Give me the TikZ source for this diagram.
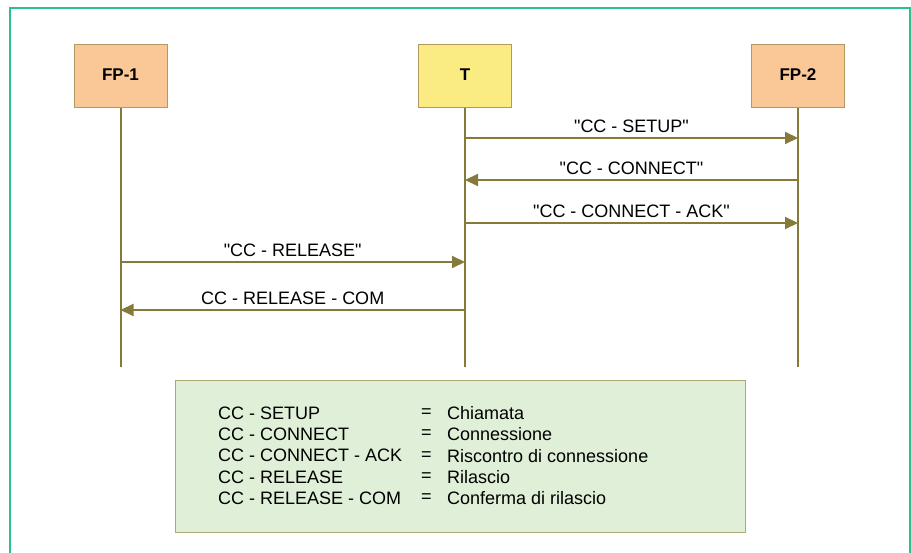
\documentclass[tikz,border=0pt]{standalone}
\usepackage{fontspec}
\setmainfont{Liberation Sans}
\usetikzlibrary{arrows.meta,positioning}

\definecolor{frame}{HTML}{2EBF8F}
\definecolor{olive}{HTML}{857A3A}
\definecolor{peach}{HTML}{F9C896}
\definecolor{lemon}{HTML}{FAEB82}
\definecolor{mint}{HTML}{DFEFD8}

\newcommand{\qt}[1]{\textquotedbl#1\textquotedbl}

\begin{document}
\begin{tikzpicture}[x=1pt,y=-1pt,
  ent/.style={draw=olive!60!peach, fill=peach, minimum width=93pt, minimum height=63pt, font=\fontsize{17}{20}\selectfont\bfseries},
  life/.style={olive, line width=2pt},
  msg/.style={olive, line width=2pt, -{Triangle[length=13pt,width=12pt]}},
  lbl/.style={text=black, font=\fontsize{18}{21}\selectfont}]
\useasboundingbox (0,0) rectangle (911,553);
\draw[frame, line width=2pt] (10,553) -- (10,8) -- (910,8) -- (910,553);

% entita
\node[ent] (FP1) at (120.5,76) {\raisebox{3pt}{FP-1}};
\node[ent,fill=lemon] (T) at (465,76) {\raisebox{3pt}{T}};
\node[ent] (FP2) at (798,76) {\raisebox{3pt}{FP-2}};

\coordinate (FP1end) at (FP1 |- 0,367);
\coordinate (Tend) at (T |- 0,367);
\coordinate (FP2end) at (FP2 |- 0,367);
\draw[life] (FP1) -- (FP1end);
\draw[life] (T) -- (Tend);
\draw[life] (FP2) -- (FP2end);

% punti sui tempi
\foreach \n/\y in {1/138,2/180,3/223,4/262,5/310} {
  \coordinate (a\n) at (FP1 |- 0,\y);
  \coordinate (b\n) at (T |- 0,\y);
  \coordinate (c\n) at (FP2 |- 0,\y);
}

\path[msg] (b1) edge node[lbl,above=1pt] {\qt{CC - SETUP}} (c1)
    (c2) edge node[lbl,above=1pt] {\qt{CC - CONNECT}} (b2)
    (b3) edge node[lbl,above=1pt] {\qt{CC - CONNECT - ACK}} (c3)
    (a4) edge node[lbl,above=1pt] {\qt{CC - RELEASE}} (b4)
    (b5) edge node[lbl,above=1pt] {CC - RELEASE - COM} (a5);

% legenda
\node[draw=olive!60!mint, fill=mint, minimum width=570pt, minimum height=152pt] (legend) at (460,456) {};
\foreach \i/\k/\v in {1/CC - SETUP/Chiamata,
    2/CC - CONNECT/Connessione,
    3/CC - CONNECT - ACK/Riscontro di connessione,
    4/CC - RELEASE/Rilascio,
    5/CC - RELEASE - COM/Conferma di rilascio} {
  \node[lbl, anchor=west, inner sep=0pt] (k\i) at (218, 391.7+21.3*\i) {\k};
  \node[lbl, anchor=west, inner sep=0pt] (e\i) at (421, 391.7+21.3*\i) {=};
  \node[lbl, anchor=west, inner sep=0pt] (v\i) at (447, 391.7+21.3*\i) {\v};
}
\end{tikzpicture}
\end{document}
